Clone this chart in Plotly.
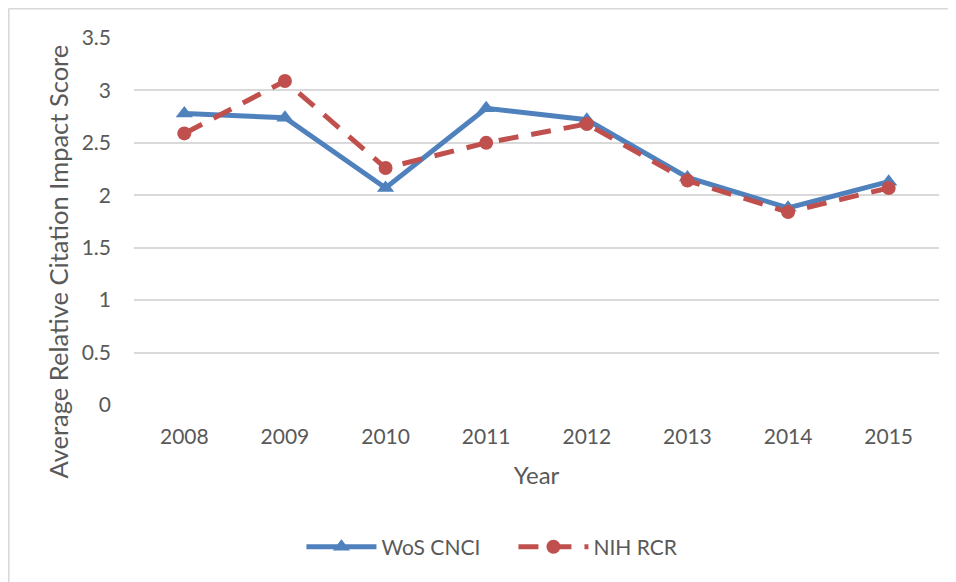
import plotly.graph_objects as go

years = ["2008", "2009", "2010", "2011", "2012", "2013", "2014", "2015"]
wos_cnci = [2.78, 2.74, 2.07, 2.83, 2.72, 2.17, 1.88, 2.13]
nih_rcr = [2.59, 3.09, 2.26, 2.50, 2.68, 2.14, 1.84, 2.07]
y_ticks = [0, 0.5, 1, 1.5, 2, 2.5, 3, 3.5]
y_tick_text = ["0", "0.5", "1", "1.5", "2", "2.5", "3", "3.5"]

FONT = "Lato, Carlito, Calibri, sans-serif"
GRAY = "#595959"

fig = go.Figure()
fig.add_trace(go.Scatter(
    x=years, y=wos_cnci, name="WoS CNCI", mode="lines+markers",
    line=dict(color="#4F81BD", width=5),
    marker=dict(symbol="triangle-up", size=15, color="#4F81BD"),
))
fig.add_trace(go.Scatter(
    x=years, y=nih_rcr, name="NIH RCR", mode="lines+markers",
    line=dict(color="#C0504D", width=5, dash="20px,13px"),
    marker=dict(symbol="circle", size=14, color="#C0504D"),
))

# page body adds an 8px offset; figure sized to fit the window
W, H = 948, 574
L, R, T, B = 126, 17, 30, 177
pw, ph = W - L - R, H - T - B
bx = (0.6 - L) / pw
by = 1 + (T - 0.6) / ph

fig.update_layout(
    width=W, height=H,
    margin=dict(l=L, r=R, t=T, b=B),
    paper_bgcolor="white", plot_bgcolor="white",
    font=dict(family=FONT, size=21, color=GRAY),
    showlegend=True,
    legend=dict(orientation="h", x=0.208, y=-0.387, xanchor="left", yanchor="middle",
                font=dict(size=21, color=GRAY), itemwidth=70,
                entrywidth=127, entrywidthmode="pixels", traceorder="normal"),
    xaxis=dict(
        type="category", range=[-0.5, 7.5], showgrid=False, zeroline=False,
        showline=False, ticks="", tickfont=dict(size=21, color=GRAY),
        ticklabelstandoff=17,
        title=dict(text="Year", font=dict(size=24, color=GRAY), standoff=20),
    ),
    yaxis=dict(
        range=[0, 3.5], tickvals=y_ticks, ticktext=y_tick_text,
        showgrid=True, gridcolor="#D9D9D9", gridwidth=2, zeroline=False,
        showline=False, ticks="", tickfont=dict(size=21, color=GRAY),
        ticklabelstandoff=22,
    ),
    annotations=[
        dict(text="Average Relative Citation Impact Score", textangle=-90,
             xref="paper", yref="paper", x=-0.094, y=0.392,
             xanchor="center", yanchor="middle", showarrow=False,
             font=dict(size=25.5, color=GRAY, family=FONT)),
    ],
    shapes=[
        dict(type="line", xref="paper", yref="paper", x0=bx, x1=bx, y0=-1, y1=by,
             line=dict(color="#D9D9D9", width=2)),
        dict(type="line", xref="paper", yref="paper", x0=bx, x1=1.2, y0=by, y1=by,
             line=dict(color="#D9D9D9", width=2)),
    ],
)

fig.write_html("out.html")
